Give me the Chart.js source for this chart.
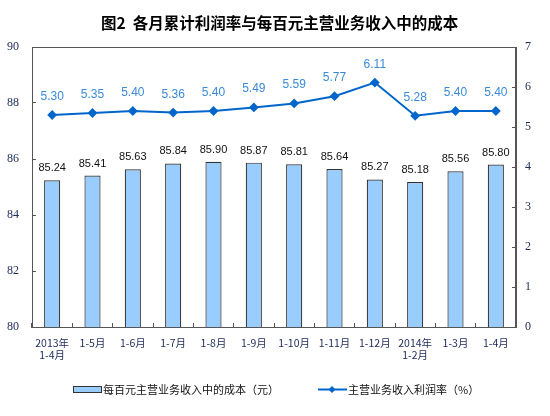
<!DOCTYPE html>
<html lang="zh">
<head>
<meta charset="UTF-8" />
<title>图2 各月累计利润率与每百元主营业务收入中的成本</title>
<script src="https://cdn.jsdelivr.net/npm/chart.js@4.4.1/dist/chart.umd.min.js"></script>
<style>
  body { margin: 0; background: #ffffff; }
  .wrap { position: relative; width: 550px; height: 416px; }
</style>
</head>
<body>
<div class="wrap"><canvas id="c"></canvas></div>
<script>
  // 数据
  const months = [
    ["2013年", "1-4月"], "1-5月", "1-6月", "1-7月", "1-8月", "1-9月",
    "1-10月", "1-11月", "1-12月", ["2014年", "1-2月"], "1-3月", "1-4月"
  ];
  const costPer100 = [85.24, 85.41, 85.63, 85.84, 85.90, 85.87, 85.81, 85.64, 85.27, 85.18, 85.56, 85.80];
  const profitRate = [5.30, 5.35, 5.40, 5.36, 5.40, 5.49, 5.59, 5.77, 6.11, 5.28, 5.40, 5.40];
  const leftTicks = [80, 82, 84, 86, 88, 90];
  const rightTicks = [0, 1, 2, 3, 4, 5, 6, 7];

  const titleText = "图2  各月累计利润率与每百元主营业务收入中的成本";
  const barName = "每百元主营业务收入中的成本（元）";
  const lineName = "主营业务收入利润率（%）";

  const cjk = '"Noto Sans CJK SC", "Noto Sans", sans-serif';
  const tickColor = "#1c2a5c";
  const frameColor = "#555555";

  // 标题、图例、数值标签、外框
  const decorations = {
    id: "decorations",
    afterDatasetsDraw(chart) {
      const ctx = chart.ctx;
      const area = chart.chartArea;
      ctx.save();
      ctx.strokeStyle = frameColor;
      ctx.lineWidth = 1;
      ctx.strokeRect(Math.round(area.left) + 0.5, Math.round(area.top) + 0.5,
        Math.round(area.right - area.left) - 1, Math.round(area.bottom - area.top));

      // 柱子数值
      ctx.font = '11px "Liberation Sans", Arial, sans-serif';
      ctx.textAlign = "center";
      ctx.textBaseline = "alphabetic";
      ctx.fillStyle = "#111111";
      chart.getDatasetMeta(0).data.forEach((el, i) => {
        ctx.fillText(costPer100[i].toFixed(2), el.x, el.y - 9);
      });
      // 折线数值
      ctx.font = '12px "Liberation Sans", Arial, sans-serif';
      ctx.fillStyle = "#3a8ad8";
      chart.getDatasetMeta(1).data.forEach((el, i) => {
        ctx.fillText(profitRate[i].toFixed(2), el.x, el.y - 15);
      });
      ctx.restore();
    },
    afterDraw(chart) {
      const ctx = chart.ctx;
      ctx.save();
      ctx.fillStyle = "#000000";
      ctx.font = "bold 15.5px " + cjk;
      ctx.textAlign = "left";
      ctx.textBaseline = "middle";
      ctx.fillText(titleText, 101, 23);

      // 图例
      const ly = 389.5;
      ctx.fillStyle = "#99ccff";
      ctx.fillRect(73, 386, 28, 6);
      ctx.strokeStyle = "#333333";
      ctx.lineWidth = 1;
      ctx.strokeRect(73.5, 386.5, 28, 6);
      ctx.fillStyle = "#111111";
      ctx.font = "11px " + cjk;
      ctx.fillText(barName, 103, ly);

      ctx.strokeStyle = "#0066cc";
      ctx.lineWidth = 2;
      ctx.beginPath();
      ctx.moveTo(318, ly);
      ctx.lineTo(347, ly);
      ctx.stroke();
      ctx.fillStyle = "#0066cc";
      ctx.beginPath();
      ctx.moveTo(332, ly - 3.5);
      ctx.lineTo(335.5, ly);
      ctx.lineTo(332, ly + 3.5);
      ctx.lineTo(328.5, ly);
      ctx.closePath();
      ctx.fill();
      ctx.fillStyle = "#111111";
      ctx.fillText(lineName, 348, ly);
      ctx.restore();
    }
  };

  new Chart(document.getElementById("c"), {
    data: {
      labels: months,
      datasets: [
        {
          type: "bar",
          label: barName,
          data: costPer100,
          yAxisID: "y",
          backgroundColor: "#99ccff",
          borderColor: "#333333",
          borderWidth: 1.2,
          categoryPercentage: 1,
          barPercentage: 0.4,
          order: 2
        },
        {
          type: "line",
          label: lineName,
          data: profitRate,
          yAxisID: "y1",
          borderColor: "#0066cc",
          backgroundColor: "#0066cc",
          borderWidth: 2,
          pointStyle: "rectRot",
          pointRadius: 3.5,
          tension: 0,
          order: 1
        }
      ]
    },
    options: {
      responsive: true,
      maintainAspectRatio: false,
      animation: false,
      layout: { padding: { top: 47, left: 0, right: 0, bottom: 0 } },
      plugins: {
        legend: { display: false },
        title: { display: false },
        tooltip: { enabled: false }
      },
      scales: {
        x: {
          grid: { drawOnChartArea: false, tickLength: -4, color: frameColor },
          border: { color: frameColor },
          ticks: {
            color: tickColor,
            font: { family: cjk, size: 10.5, lineHeight: 1.15 },
            padding: 14,
            maxRotation: 0,
            autoSkip: false
          },
          afterFit(scale) { scale.height = 89; }
        },
        y: {
          position: "left",
          min: 80,
          max: 90,
          afterBuildTicks(scale) { scale.ticks = leftTicks.map(v => ({ value: v })); },
          grid: { drawOnChartArea: false, tickLength: -4, color: frameColor },
          border: { color: frameColor },
          ticks: {
            color: tickColor,
            font: { family: '"Liberation Serif", "Times New Roman", serif', size: 12 },
            padding: 17
          },
          afterFit(scale) { scale.width = 32; }
        },
        y1: {
          position: "right",
          min: 0,
          max: 7,
          afterBuildTicks(scale) { scale.ticks = rightTicks.map(v => ({ value: v })); },
          grid: { drawOnChartArea: false, tickLength: -4, color: frameColor },
          border: { color: frameColor },
          ticks: {
            color: tickColor,
            font: { family: '"Liberation Serif", "Times New Roman", serif', size: 12 },
            padding: 13
          },
          afterFit(scale) { scale.width = 34; }
        }
      }
    },
    plugins: [decorations]
  });
</script>
</body>
</html>
